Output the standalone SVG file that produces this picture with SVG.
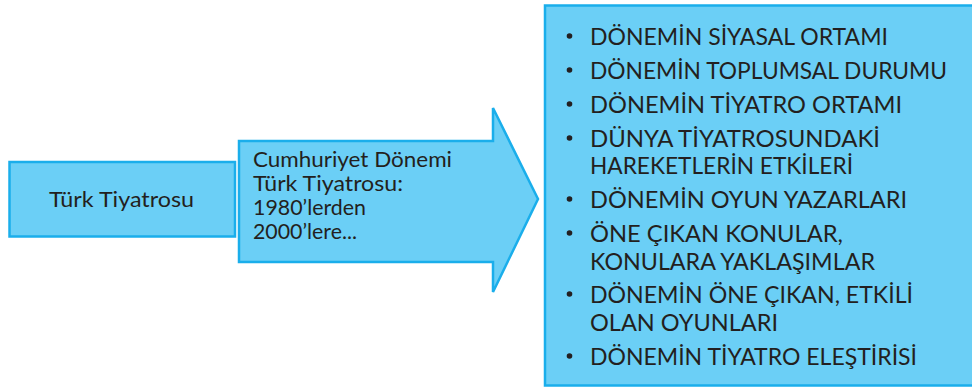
<svg xmlns="http://www.w3.org/2000/svg" width="972" height="387" viewBox="0 0 972 387">
  <style>
    .shape { fill: #6BCFF6; stroke: #1AAEEB; stroke-width: 2.5; }
    .t { font-family: Lato, "Open Sans", "Liberation Sans", sans-serif; fill: #231F20; }
    .small { font-size: 20.5px; }
    .item { font-size: 23px; }
    .dot { fill: #231F20; }
  </style>
  <rect width="972" height="387" fill="#FFFFFF"/>

  <g id="turk-tiyatrosu">
    <rect class="shape" x="9.5" y="162" width="225.5" height="74.5"/>
    <text class="t small" x="49" y="207" textLength="145" lengthAdjust="spacingAndGlyphs">Türk Tiyatrosu</text>
  </g>

  <g id="donem-arrow">
    <polygon class="shape" points="239,141 493,141 493,108 538,199 493,292 493,262 239,262"/>
    <text class="t small" x="253" y="167" textLength="199" lengthAdjust="spacingAndGlyphs">Cumhuriyet Dönemi</text>
    <text class="t small" x="253" y="191" textLength="150" lengthAdjust="spacingAndGlyphs">Türk Tiyatrosu:</text>
    <text class="t small" x="253" y="215" textLength="113" lengthAdjust="spacingAndGlyphs">1980’lerden</text>
    <text class="t small" x="253" y="239" textLength="104" lengthAdjust="spacingAndGlyphs">2000’lere...</text>
  </g>

  <g id="konular">
    <rect class="shape" x="545" y="5.5" width="440" height="380"/>
    <g class="dot">
      <circle cx="569.5" cy="36" r="2.8"/>
      <circle cx="569.5" cy="70" r="2.8"/>
      <circle cx="569.5" cy="104" r="2.8"/>
      <circle cx="569.5" cy="138" r="2.8"/>
      <circle cx="569.5" cy="199" r="2.8"/>
      <circle cx="569.5" cy="233" r="2.8"/>
      <circle cx="569.5" cy="294" r="2.8"/>
      <circle cx="569.5" cy="356" r="2.8"/>
    </g>
    <g class="t item">
      <text x="590" y="45" textLength="298" lengthAdjust="spacingAndGlyphs">DÖNEMİN SİYASAL ORTAMI</text>
      <text x="590" y="79" textLength="357" lengthAdjust="spacingAndGlyphs">DÖNEMİN TOPLUMSAL DURUMU</text>
      <text x="590" y="113" textLength="312" lengthAdjust="spacingAndGlyphs">DÖNEMİN TİYATRO ORTAMI</text>
      <text x="590" y="147" textLength="290" lengthAdjust="spacingAndGlyphs">DÜNYA TİYATROSUNDAKİ</text>
      <text x="590" y="174" textLength="263" lengthAdjust="spacingAndGlyphs">HAREKETLERİN ETKİLERİ</text>
      <text x="590" y="208" textLength="317" lengthAdjust="spacingAndGlyphs">DÖNEMİN OYUN YAZARLARI</text>
      <text x="590" y="242" textLength="253" lengthAdjust="spacingAndGlyphs">ÖNE ÇIKAN KONULAR,</text>
      <text x="590" y="270" textLength="285" lengthAdjust="spacingAndGlyphs">KONULARA YAKLAŞIMLAR</text>
      <text x="590" y="303" textLength="323" lengthAdjust="spacingAndGlyphs">DÖNEMİN ÖNE ÇIKAN, ETKİLİ</text>
      <text x="590" y="331" textLength="188" lengthAdjust="spacingAndGlyphs">OLAN OYUNLARI</text>
      <text x="590" y="365" textLength="327" lengthAdjust="spacingAndGlyphs">DÖNEMİN TİYATRO ELEŞTİRİSİ</text>
    </g>
  </g>
</svg>
